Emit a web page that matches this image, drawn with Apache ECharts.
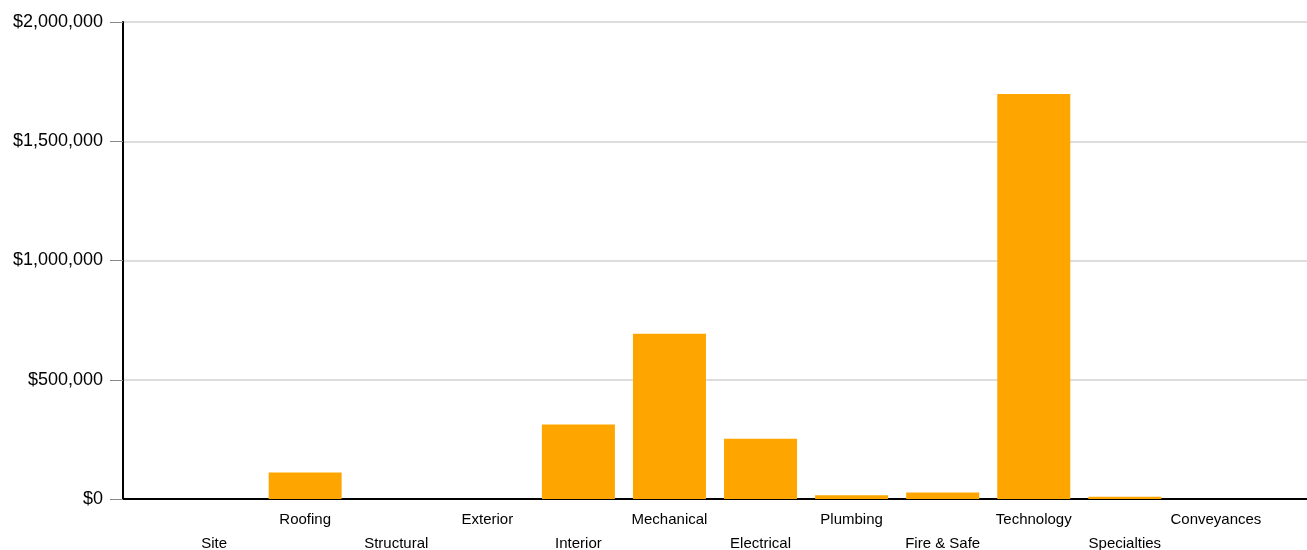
<!DOCTYPE html>
<html>
<head>
<meta charset="utf-8">
<script src="https://cdn.jsdelivr.net/npm/echarts@6/dist/echarts.min.js"></script>
<style>html,body{margin:0;padding:0;background:#fff;overflow:hidden}#c{width:1307px;height:550px}</style>
</head>
<body>
<div id="c"></div>
<script>
const categories = ['', 'Site', 'Roofing', 'Structural', 'Exterior', 'Interior', 'Mechanical', 'Electrical', 'Plumbing', 'Fire & Safe', 'Technology', 'Specialties', 'Conveyances', ''];
const costs = [null, 0, 111000, 0, 0, 312000, 693000, 253000, 16000, 27000, 1698000, 9000, 0, null];
const yTicks = [0, 500000, 1000000, 1500000, 2000000];

const chart = echarts.init(document.getElementById('c'), null, {renderer: 'canvas'});
chart.setOption({
  animation: false,
  backgroundColor: '#fff',
  textStyle: {fontFamily: 'Liberation Sans, Arial, sans-serif'},
  grid: {left: 123, right: 0, top: 22, bottom: 51, containLabel: false, outerBoundsMode: 'none'},
  xAxis: {
    type: 'category',
    data: categories,
    boundaryGap: false,
    axisLine: {show: true, lineStyle: {color: '#000', width: 2}},
    axisTick: {show: false},
    splitLine: {show: false},
    axisLabel: {
      interval: 0,
      margin: 9,
      color: '#000',
      fontSize: 15,
      lineHeight: 24,
      hideOverlap: false,
      formatter: function (v, i) { return (i % 2 === 1) ? '\n' + v : v; }
    }
  },
  yAxis: {
    type: 'value',
    min: yTicks[0],
    max: yTicks[yTicks.length - 1],
    interval: yTicks[1] - yTicks[0],
    axisLine: {show: true, lineStyle: {color: '#000', width: 2}},
    axisTick: {show: true, length: 13, lineStyle: {color: '#888', width: 1}},
    splitLine: {show: true, lineStyle: {color: '#ddd', width: 2}},
    axisLabel: {
      color: '#000',
      fontSize: 18,
      margin: 20,
      formatter: function (v) { return '$' + v.toLocaleString('en-US'); }
    }
  },
  series: [{
    type: 'bar',
    data: costs,
    barWidth: 73,
    itemStyle: {color: '#FFA500'}
  }]
});
</script>
</body>
</html>
